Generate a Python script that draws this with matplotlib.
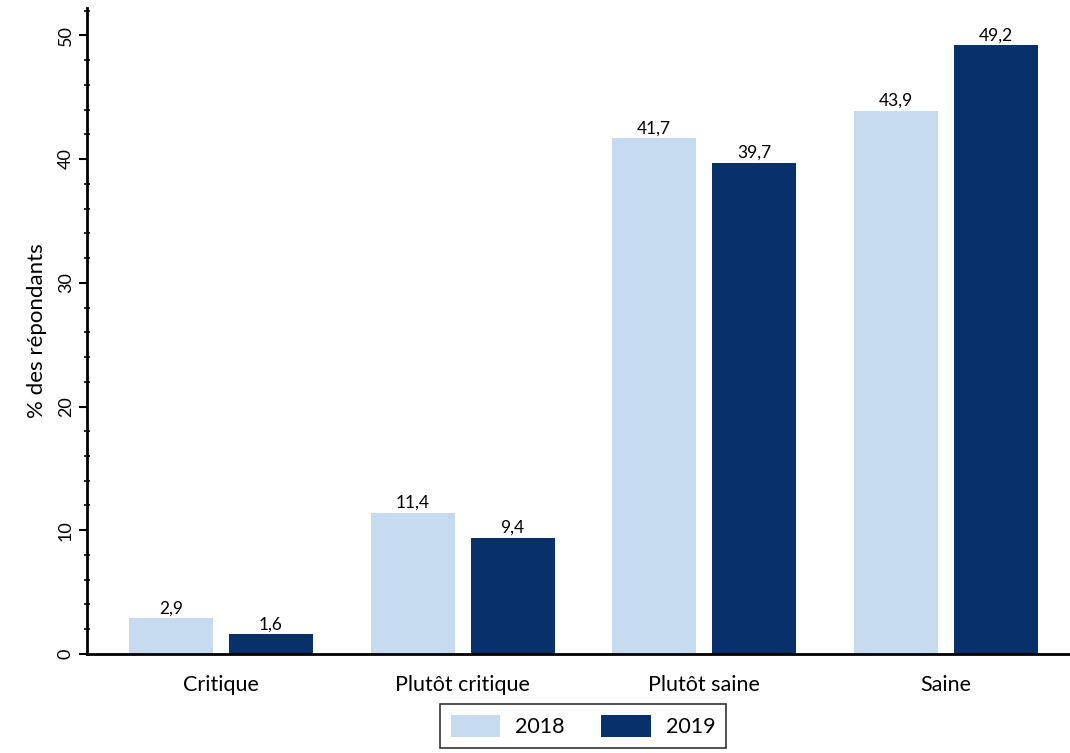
import numpy as np
import matplotlib
matplotlib.use('Agg')
import matplotlib.pyplot as plt
from matplotlib.ticker import MultipleLocator

plt.rcParams['font.family'] = ['Lato', 'DejaVu Sans']

categories = ['Critique', 'Plutôt critique', 'Plutôt saine', 'Saine']
years = ['2018', '2019']
vals_2018 = [2.9, 11.4, 41.7, 43.9]
vals_2019 = [1.6, 9.4, 39.7, 49.2]
colors = ['#c6dbef', '#08306b']

fig = plt.figure(figsize=(10.7, 7.53), dpi=100)
ax = fig.add_axes([0.0813, 0.1315, 0.9187, 0.8578])

x = np.arange(len(categories))
w = 0.348
off = 0.207
for vals, sign, col, lab in zip([vals_2018, vals_2019], [-1, 1], colors, years):
    bars = ax.bar(x + sign * off, vals, width=w, color=col, label=lab)
    for b, v in zip(bars, vals):
        ax.text(b.get_x() + b.get_width() / 2, v + 0.15, f'{v:.1f}'.replace('.', ','),
                ha='center', va='bottom', fontsize=12.5)

ax.set_xlim(-0.555, 3.515)
ax.set_ylim(0, 52.2)
ax.set_xticks(x)
ax.set_xticklabels(categories, fontsize=15.5)
ax.yaxis.set_major_locator(MultipleLocator(10))
ax.yaxis.set_minor_locator(MultipleLocator(2))
ax.tick_params(axis='y', labelrotation=90, labelsize=13, width=1.5, length=6)
ax.tick_params(axis='y', which='minor', direction='inout', length=5, width=1.2)
ax.tick_params(axis='x', length=0, pad=15)
for lab in ax.get_yticklabels():
    lab.set_va('center')
ax.set_ylabel('% des répondants', fontsize=16, labelpad=8)

for s in ['top', 'right']:
    ax.spines[s].set_visible(False)
for s in ['left', 'bottom']:
    ax.spines[s].set_linewidth(2)

leg = fig.legend(loc='lower center', bbox_to_anchor=(0.545, -0.008), ncol=2,
                 fontsize=15.5, frameon=True, fancybox=False, edgecolor='black',
                 handlelength=2.3, handleheight=1.2, handletextpad=0.7,
                 columnspacing=1.7, borderpad=0.5)
leg.get_frame().set_linewidth(1.2)

plt.savefig('out.png', dpi=100)
